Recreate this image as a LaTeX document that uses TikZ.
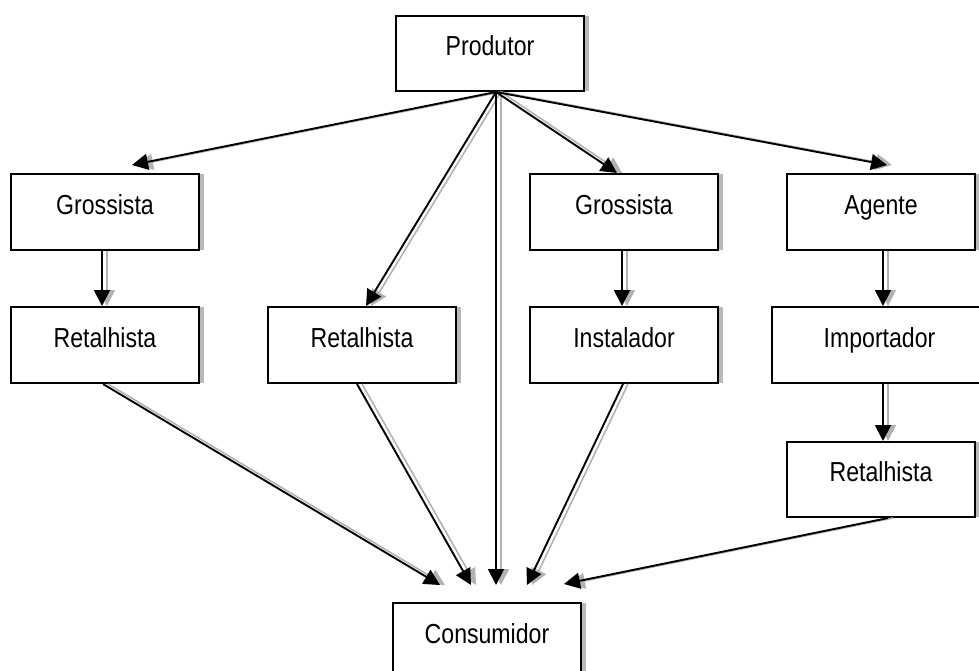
\documentclass[tikz,border=0pt]{standalone}
\usepackage{fontspec}
\setmainfont[FakeStretch=0.84]{Liberation Sans}
\usetikzlibrary{arrows.meta,calc,shadows}
\tikzset{
  box/.style={draw, line width=2pt, fill=white, minimum width=188pt, minimum height=76pt,
    inner sep=0pt, text height=22pt, text depth=18pt, font=\fontsize{27.5pt}{30pt}\selectfont,
    drop shadow={shadow xshift=5pt, shadow yshift=0pt, fill=gray!55, opacity=1}},
  conn/.style={line width=1.9pt, -{Triangle[length=16pt,width=16pt]},
    preaction={draw=gray!60, line width=1.6pt, transform canvas={shift={(5pt,0pt)}}}}
}
\begin{document}
\begin{tikzpicture}[x=1pt,y=-1pt]
\useasboundingbox (0,0) rectangle (979,671);
\clip (0,0) rectangle (979,671);

% distribution chain boxes
\node[box, minimum height=75pt] (prod) at (490,53.5) {Produtor};
\node[box] (g1) at (105,212) {Grossista};
\node[box] (r1) at (105,345) {Retalhista};
\node[box] (r2) at (362,345) {Retalhista};
\node[box] (g2) at (624,212) {Grossista};
\node[box] (inst) at (624,345) {Instalador};
\node[box] (ag) at (881,212) {Agente};
\node[box, minimum width=215pt] (imp) at (879.5,345) {Importador};
\node[box, minimum height=75pt] (r3) at (881,479.5) {Retalhista};
\node[box] (cons) at (487,641) {Consumidor};

% common starting point under the producer
\coordinate (src) at ($(prod.south)+(6,0)$);

% producer to intermediaries
\draw[conn] (src) -- ($(g1.north)+(27,-8)$);
\draw[conn] (src) -- ($(r2.north)+(4,0)$);
\draw[conn] (src) -- ($(cons.north)+(9,-17)$);
\draw[conn] (src) -- ($(g2.north)+(-7,0)$);
\draw[conn] (src) -- ($(ag.north)+(6,-8)$);

% vertical links
\draw[conn] ($(g1.south)+(-3,0)$) -- ($(r1.north)+(-3,0)$);
\draw[conn] ($(g2.south)+(-2,0)$) -- ($(inst.north)+(-2,0)$);
\draw[conn] ($(ag.south)+(2,0)$) -- ($(imp.north)+(3.5,0)$);
\draw[conn] ($(imp.south)+(3.5,0)$) -- ($(r3.north)+(2,0)$);

% retail links to the consumer
\draw[conn] ($(r1.south)+(-2,0)$) -- ($(cons.north)+(-47,-17)$);
\draw[conn] ($(r2.south)+(-5,0)$) -- ($(cons.north)+(-16,-17)$);
\draw[conn] ($(inst.south)+(-1,0)$) -- ($(cons.north)+(40,-17)$);
\draw[conn] ($(r3.south)+(7,0)$) -- ($(cons.north)+(77,-18)$);
\end{tikzpicture}
\end{document}
